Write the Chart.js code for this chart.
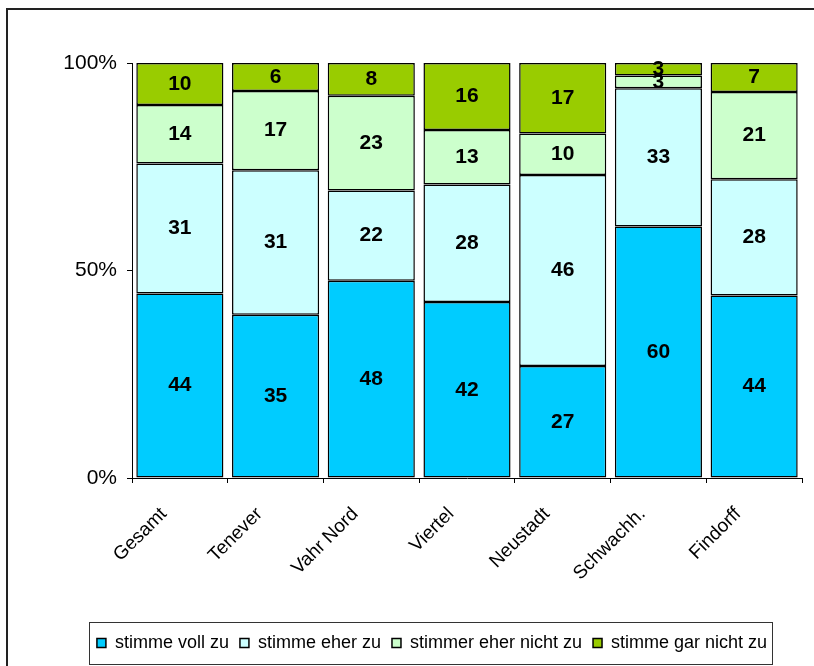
<!DOCTYPE html>
<html>
<head>
<meta charset="utf-8">
<script src="https://cdn.jsdelivr.net/npm/chart.js@4/dist/chart.umd.min.js"></script>
<style>
  html, body { margin: 0; padding: 0; background: #fff; }
  #wrap { width: 814px; height: 666px; }
</style>
</head>
<body>
<div id="wrap"><canvas id="grafik" width="814" height="666"></canvas></div>
<script>
const kategorien = ['Gesamt', 'Tenever', 'Vahr Nord', 'Viertel', 'Neustadt', 'Schwachh.', 'Findorff'];
const stimmeVoll = [44, 35, 48, 42, 27, 60, 44];
const stimmeEher = [31, 31, 22, 28, 46, 33, 28];
const eherNicht = [14, 17, 23, 13, 10, 3, 21];
const garNicht = [10, 6, 8, 16, 17, 3, 7];
const yTicks = [0, 50, 100];

const reihen = [
  { label: 'stimme voll zu', werte: stimmeVoll, farbe: '#00CCFF' },
  { label: 'stimme eher zu', werte: stimmeEher, farbe: '#CCFFFF' },
  { label: 'stimmer eher nicht zu', werte: eherNicht, farbe: '#CCFFCC' },
  { label: 'stimme gar nicht zu', werte: garNicht, farbe: '#99CC00' }
];

// Summe je Kategorie fuer 100%-Darstellung
const summen = kategorien.map((k, i) => reihen.reduce((s, r) => s + r.werte[i], 0));

const datasets = reihen.map(r => ({
  label: r.label,
  data: r.werte.map((v, i) => v / summen[i] * 100),
  roh: r.werte,
  backgroundColor: r.farbe,
  borderColor: '#000',
  borderWidth: 1.5,
  borderSkipped: false,
  barPercentage: 0.91,
  categoryPercentage: 1.0
}));

const schrift = '"Liberation Sans", Arial, sans-serif';

// Zahlen in die Balken schreiben
const wertLabels = {
  id: 'wertLabels',
  afterDatasetsDraw(chart) {
    const ctx = chart.ctx;
    ctx.save();
    ctx.font = 'bold 21px ' + schrift;
    ctx.fillStyle = '#000';
    ctx.textAlign = 'center';
    ctx.textBaseline = 'middle';
    chart.data.datasets.forEach((ds, di) => {
      chart.getDatasetMeta(di).data.forEach((bar, i) => {
        const y = (bar.y + bar.base) / 2;
        ctx.fillText(String(ds.roh[i]), bar.x, y);
      });
    });
    ctx.restore();
  }
};

// Rahmen um Diagramm und Legende
const rahmen = {
  id: 'rahmen',
  afterDraw(chart) {
    const ctx = chart.ctx;
    ctx.save();
    ctx.strokeStyle = '#222';
    ctx.lineWidth = 2;
    ctx.strokeRect(7, 9, 900, 900);
    const hb = chart.legend.legendHitBoxes;
    if (hb && hb.length) {
      const l = hb[0].left - 8;
      const last = hb[hb.length - 1];
      const r = last.left + last.width + 5;
      const t = hb[0].top - 12;
      const b = hb[0].top + hb[0].height + 12;
      ctx.lineWidth = 1;
      ctx.strokeStyle = '#333';
      ctx.strokeRect(Math.round(l) + 0.5, Math.round(t) + 0.5, Math.round(r - l), Math.round(b - t));
    }
    ctx.restore();
  }
};

new Chart(document.getElementById('grafik'), {
  type: 'bar',
  data: { labels: kategorien, datasets: datasets },
  options: {
    responsive: false,
    animation: false,
    layout: { padding: { left: 62, right: 12, top: 63, bottom: 4 } },
    plugins: {
      legend: {
        position: 'bottom',
        labels: {
          color: '#000',
          font: { family: schrift, size: 18 },
          boxWidth: 9,
          boxHeight: 9,
          padding: 11
        }
      },
      tooltip: { enabled: false },
      title: { display: false }
    },
    scales: {
      x: {
        stacked: true,
        grid: { display: true, drawOnChartArea: false, offset: true, tickLength: 5, color: '#000' },
        border: { display: true, color: '#000', width: 1 },
        ticks: {
          color: '#000',
          font: { family: schrift, size: 19 },
          maxRotation: 45,
          minRotation: 45,
          padding: 20,
          labelOffset: -16
        },
        afterFit(scale) { scale.height = 145; }
      },
      y: {
        stacked: true,
        min: 0,
        max: 100,
        afterBuildTicks(scale) { scale.ticks = yTicks.map(v => ({ value: v })); },
        grid: { drawOnChartArea: false, tickLength: 5, color: '#000' },
        border: { display: true, color: '#000', width: 1 },
        ticks: {
          color: '#000',
          font: { family: schrift, size: 21 },
          padding: 10,
          callback: v => v + '%'
        },
        afterFit(scale) { scale.width = 70; }
      }
    }
  },
  plugins: [wertLabels, rahmen]
});
</script>
</body>
</html>
